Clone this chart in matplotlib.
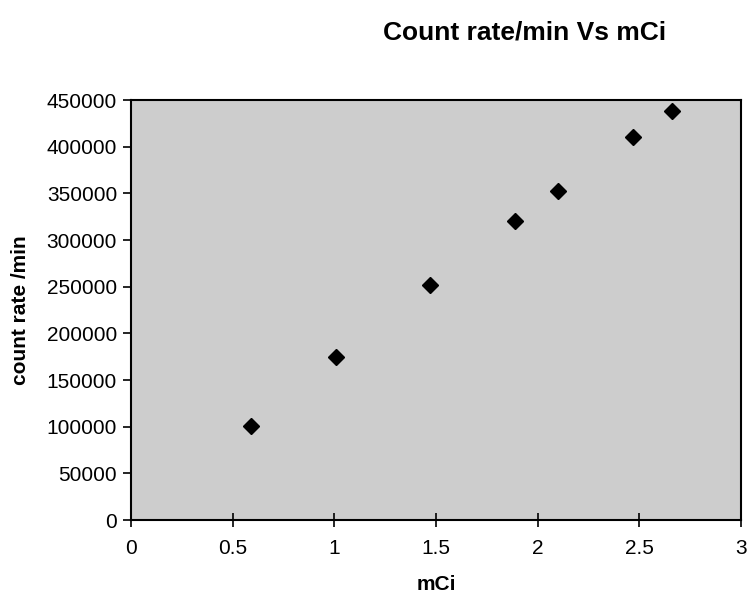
import matplotlib as mpl
import matplotlib.pyplot as plt

mpl.rcParams["font.family"] = ["Liberation Sans", "DejaVu Sans"]

# values
mci = [0.59, 1.01, 1.47, 1.89, 2.10, 2.47, 2.66]
count_rate = [101000, 175000, 252000, 320000, 352000, 410000, 438000]

x_ticks = [0, 0.5, 1, 1.5, 2, 2.5, 3]
y_ticks = list(range(0, 450001, 50000))

fig = plt.figure(figsize=(7.52, 6.04), dpi=100)
ax = fig.add_axes([0.1742, 0.139, 0.8112, 0.6954])
ax.set_facecolor("#cdcdcd")

ax.plot(mci, count_rate, linestyle="none", marker="D", markersize=8.5,
        color="black")

ax.set_xlim(0, 3)
ax.set_ylim(0, 450000)
ax.set_xticks(x_ticks)
ax.set_xticklabels(["0", "0.5", "1", "1.5", "2", "2.5", "3"])
ax.set_yticks(y_ticks)
ax.set_yticklabels([str(v) for v in y_ticks])

ax.tick_params(axis="y", direction="out", length=6, width=1.2,
               labelsize=15, pad=4)
ax.tick_params(axis="x", direction="inout", length=10, width=1.2,
               labelsize=15, pad=9)
for spine in ax.spines.values():
    spine.set_linewidth(1.5)
    spine.set_color("black")

ax.set_xlabel("mCi", fontsize=15, fontweight="bold", labelpad=12)
ax.set_ylabel("count rate /min", fontsize=15, fontweight="bold", labelpad=12)
fig.text(0.698, 0.947, "Count rate/min Vs mCi", fontsize=19,
         fontweight="bold", ha="center", va="center")

fig.savefig("out.png", dpi=100)
